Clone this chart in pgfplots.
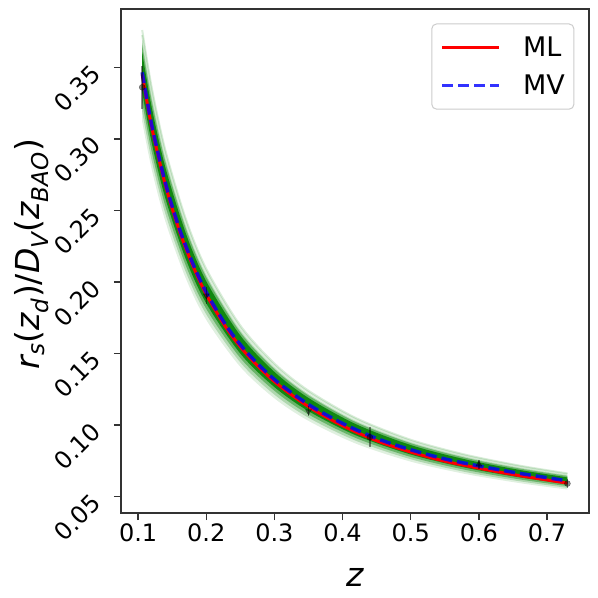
\documentclass[border=0pt]{standalone}
\usepackage{fontspec}
\setmainfont{DejaVu Sans}
\usepackage{pgfplots}
\usepackage{pgfplotstable}
\pgfplotsset{compat=1.18}
\usepgfplotslibrary{fillbetween}

\definecolor{mplgreen}{rgb}{0,0.5,0}

% ML and MV curves
\pgfplotstableread{
z     ml     mv
0.106 0.3450 0.3465
0.12  0.3080 0.3095
0.14  0.2677 0.2692
0.16  0.2365 0.2380
0.18  0.2117 0.2132
0.20  0.1913 0.1928
0.23  0.1675 0.1690
0.26  0.1491 0.1506
0.30  0.1304 0.1319
0.35  0.1129 0.1144
0.40  0.0996 0.1012
0.45  0.0891 0.0907
0.50  0.0812 0.0828
0.55  0.0748 0.0764
0.60  0.0699 0.0715
0.65  0.0655 0.0671
0.70  0.0617 0.0633
0.73  0.0595 0.0611
}\curves

% spread of the sampled curves (nested envelopes + two outliers)
\pgfplotstableread{
z     a1     a2     a3     a4     b4     b3     b2     b1     o1     o2
0.106 0.3119 0.3188 0.3257 0.3326 0.3604 0.3655 0.3690 0.3673 0.3725 0.3760
0.12  0.2786 0.2847 0.2909 0.2971 0.3219 0.3265 0.3296 0.3281 0.3327 0.3358
0.14  0.2423 0.2477 0.2530 0.2584 0.2800 0.2840 0.2867 0.2854 0.2894 0.2921
0.17  0.2025 0.2070 0.2115 0.2160 0.2340 0.2374 0.2396 0.2385 0.2419 0.2441
0.20  0.1735 0.1774 0.1812 0.1851 0.2005 0.2034 0.2053 0.2044 0.2073 0.2092
0.25  0.1407 0.1438 0.1469 0.1500 0.1626 0.1649 0.1665 0.1657 0.1680 0.1696
0.30  0.1187 0.1213 0.1240 0.1266 0.1372 0.1392 0.1405 0.1398 0.1418 0.1431
0.35  0.1030 0.1052 0.1075 0.1098 0.1190 0.1207 0.1218 0.1213 0.1230 0.1241
0.42  0.0870 0.0890 0.0909 0.0928 0.1006 0.1020 0.1030 0.1025 0.1040 0.1049
0.50  0.0745 0.0762 0.0778 0.0795 0.0861 0.0874 0.0882 0.0878 0.0890 0.0898
0.58  0.0659 0.0673 0.0688 0.0703 0.0761 0.0772 0.0780 0.0776 0.0787 0.0794
0.66  0.0595 0.0608 0.0621 0.0635 0.0687 0.0697 0.0704 0.0701 0.0711 0.0717
0.73  0.0550 0.0562 0.0574 0.0587 0.0635 0.0645 0.0651 0.0648 0.0657 0.0663
}\band

\begin{document}
\begin{tikzpicture}
\begin{axis}[
  scale only axis, width=468pt, height=504pt,
  xmin=0.0748, xmax=0.7612, ymin=0.0386, ymax=0.3905,
  xtick={0.1,0.2,0.3,0.4,0.5,0.6,0.7},
  ytick={0.05,0.10,0.15,0.20,0.25,0.30,0.35},
  /pgf/number format/assume math mode=true,
  xticklabel style={/pgf/number format/fixed, /pgf/number format/precision=1},
  yticklabel style={xshift=-18pt, yshift=-2pt, inner sep=0pt, anchor=east, rotate=45,
    /pgf/number format/fixed, /pgf/number format/fixed zerofill, /pgf/number format/precision=2},
  tick label style={font=\fontsize{24}{28}\selectfont},
  tick pos=left, tick align=outside, major tick length=7pt,
  tick style={line width=1.5pt, black!80},
  axis line style={line width=1.6pt, black!80},
  xlabel={\itshape z},
  ylabel={\itshape r\textsubscript{s}\upshape(\itshape z\textsubscript{d}\upshape)/\itshape D\textsubscript{V}\upshape(\itshape z\textsubscript{BAO}\upshape)},
  label style={font=\fontsize{33}{39}\selectfont},
  xlabel style={at={(rel axis cs:0.5,0)}, anchor=base, yshift=-73pt},
  ylabel style={at={(rel axis cs:-0.19,0.514)}, anchor=center},
  legend style={at={(rel axis cs:0.9695,0.972)}, anchor=north east,
    draw=black!20, line width=1pt, rounded corners=5pt, fill=white, fill opacity=0.8, text opacity=1,
    font=\fontsize{27}{32}\selectfont, inner xsep=9pt, inner ysep=13pt,
    nodes={inner sep=0pt}, row sep=17pt,
    /tikz/every odd column/.append style={column sep=22pt}},
  legend cell align=left,
  legend image code/.code={\draw[#1] (0pt,0pt) -- (57pt,0pt);},
]
% envelopes
\addplot[draw=none, smooth, name path=a1, forget plot] table[x=z,y=a1]{\band};
\addplot[draw=none, smooth, name path=a2, forget plot] table[x=z,y=a2]{\band};
\addplot[draw=none, smooth, name path=a3, forget plot] table[x=z,y=a3]{\band};
\addplot[draw=none, smooth, name path=a4, forget plot] table[x=z,y=a4]{\band};
\addplot[draw=none, smooth, name path=b4, forget plot] table[x=z,y=b4]{\band};
\addplot[draw=none, smooth, name path=b3, forget plot] table[x=z,y=b3]{\band};
\addplot[draw=none, smooth, name path=b2, forget plot] table[x=z,y=b2]{\band};
\addplot[draw=none, smooth, name path=b1, forget plot] table[x=z,y=b1]{\band};
\addplot[fill=mplgreen, fill opacity=0.12, draw=none, forget plot] fill between[of=a1 and b1];
\addplot[fill=mplgreen, fill opacity=0.22, draw=none, forget plot] fill between[of=a2 and b2];
\addplot[fill=mplgreen, fill opacity=0.4, draw=none, forget plot] fill between[of=a3 and b3];
\addplot[fill=mplgreen, fill opacity=0.85, draw=none, forget plot] fill between[of=a4 and b4];
\addplot[mplgreen, smooth, opacity=0.15, line width=2pt, forget plot] table[x=z,y=o1]{\band};
\addplot[mplgreen, smooth, opacity=0.15, line width=2pt, forget plot] table[x=z,y=o2]{\band};

% ML and MV
\addplot[red, smooth, line width=3pt] table[x=z,y=ml]{\curves};
\addlegendentry{ML}
\addplot[blue, smooth, opacity=0.8, line width=3.5pt, dash pattern=on 11pt off 5pt] table[x=z,y=mv]{\curves};
\addlegendentry{MV}

% BAO measurements
\addplot[only marks, mark=*, mark size=3pt, black, opacity=0.45, forget plot,
  error bars/.cd, y dir=both, y explicit, error mark=none,
  error bar style={line width=1.5pt}]
  coordinates {(0.106,0.336) +- (0,0.015) (0.44,0.0916) +- (0,0.0071) (0.73,0.0592) +- (0,0.0032)};
\addplot[only marks, mark=triangle*, mark size=3.5pt, mark options={rotate=180}, black, opacity=0.45, forget plot,
  error bars/.cd, y dir=both, y explicit, error mark=none,
  error bar style={line width=1.5pt}]
  coordinates {(0.2,0.1905) +- (0,0.0061) (0.35,0.1097) +- (0,0.0036)};
\addplot[only marks, mark=triangle*, mark size=3.5pt, black, opacity=0.45, forget plot,
  error bars/.cd, y dir=both, y explicit, error mark=none,
  error bar style={line width=1.5pt}]
  coordinates {(0.6,0.0726) +- (0,0.0034)};
\end{axis}
\path (current axis.south west) ++(-121pt,-85pt) coordinate (bl);
\path (current axis.north east) ++(8.7pt,9.3pt) coordinate (tr);
\path (bl) rectangle (tr);
\end{tikzpicture}
\end{document}
